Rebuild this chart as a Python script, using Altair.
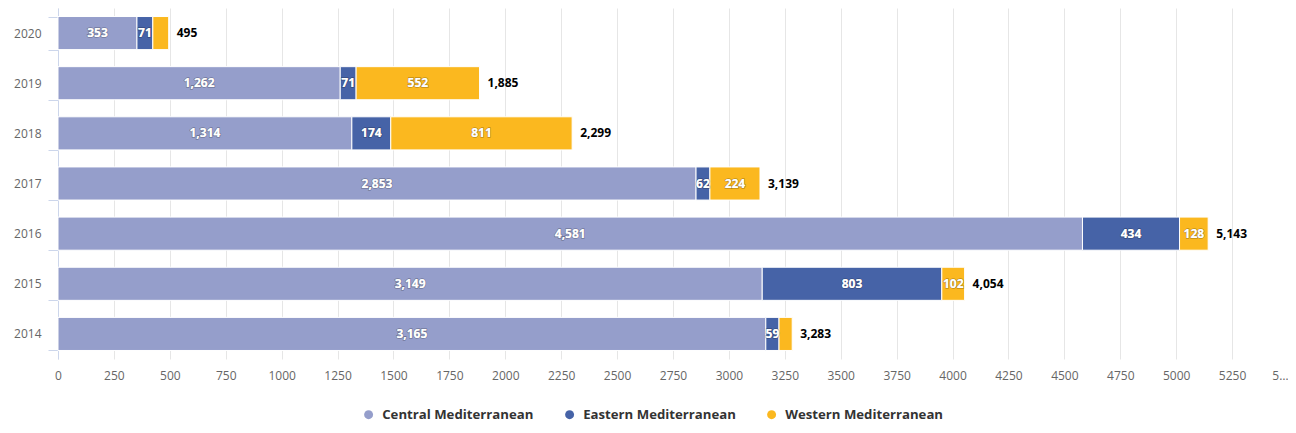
import altair as alt
import pandas as pd

years = ["2020", "2019", "2018", "2017", "2016", "2015", "2014"]
regions = ["Central Mediterranean", "Eastern Mediterranean", "Western Mediterranean"]
central = [353, 1262, 1314, 2853, 4581, 3149, 3165]
eastern = [71, 71, 174, 62, 434, 803, 59]
western = [71, 552, 811, 224, 128, 102, 59]
colors = ["#959ecb", "#4663a7", "#fbb81f"]
x_ticks = list(range(0, 5501, 250))

rows = []
for i, y in enumerate(years):
    for k, (r, vals) in enumerate(zip(regions, [central, eastern, western])):
        rows.append({"year": y, "region": r, "value": vals[i], "order": k})
df = pd.DataFrame(rows)
totals = pd.DataFrame({"year": years,
                       "total": [c + e + w for c, e, w in zip(central, eastern, western)]})

FONT = "Open Sans"

y_enc = alt.Y("year:N", sort=years, title=None,
              scale=alt.Scale(paddingInner=0.34, paddingOuter=0.17),
              axis=alt.Axis(domainColor="#ccd6eb", tickColor="#ccd6eb", tickSize=10,
                            tickBand="extent", labelColor="#666666", labelFontSize=12,
                            labelFont=FONT, labelPadding=7, grid=False))

x_scale = alt.Scale(domain=[0, 5500], nice=False)

bars = alt.Chart(df).mark_bar(stroke="white", strokeWidth=1).encode(
    x=alt.X("value:Q", stack="zero", scale=x_scale, title=None,
            axis=alt.Axis(values=x_ticks, grid=True, gridColor="#e6e6e6", domain=False,
                          ticks=False, labelColor="#666666", labelFontSize=12, labelFont=FONT,
                          labelPadding=11, format="d",
                          labelExpr="datum.value == 5500 ? '5…' : datum.label",
                          labelAlign={"condition": {"test": "datum.value == 5500", "value": "right"},
                                      "value": "center"})),
    y=y_enc,
    color=alt.Color("region:N", scale=alt.Scale(domain=regions, range=colors),
                    legend=alt.Legend(title=None, orient="none", direction="horizontal",
                                      legendX=304, legendY=400, symbolType="circle",
                                      symbolSize=80, symbolStrokeWidth=0,
                                      labelFontSize=13.2, labelFontWeight="bold",
                                      labelColor="#333333", labelFont=FONT, labelLimit=400,
                                      labelOffset=7, columnPadding=29, padding=0)),
    order=alt.Order("order:Q"),
)

seg = alt.Chart(df).transform_stack(
    stack="value", groupby=["year"], as_=["x0", "x1"],
    sort=[alt.SortField("order", order="ascending")]
).transform_calculate(
    mid="(datum.x0 + datum.x1) / 2"
).transform_filter(
    "datum.region != 'Western Mediterranean' || datum.value >= 100"
)

seg_shadow = seg.mark_text(fontSize=12, fontWeight="bold", font=FONT, color="white",
                           stroke="#000000", strokeWidth=1.6, strokeOpacity=0.25).encode(
    x=alt.X("mid:Q", scale=x_scale),
    y=alt.Y("year:N", sort=years),
    text=alt.Text("value:Q", format=","),
)
seg_text = seg.mark_text(fontSize=12, fontWeight="bold", font=FONT, color="white").encode(
    x=alt.X("mid:Q", scale=x_scale),
    y=alt.Y("year:N", sort=years),
    text=alt.Text("value:Q", format=","),
)

tot_text = alt.Chart(totals).mark_text(fontSize=12, fontWeight="bold", font=FONT,
                                       color="#000000", align="left", dx=8).encode(
    x=alt.X("total:Q", scale=x_scale),
    y=alt.Y("year:N", sort=years),
    text=alt.Text("total:Q", format=","),
)

chart = alt.layer(bars, seg_shadow, seg_text, tot_text).properties(
    width=1230, height=351,
    autosize=alt.AutoSizeParams(type="none"),
    padding={"left": 50, "top": 0, "right": 0, "bottom": 66},
).configure(background="white").configure_view(stroke=None)

chart.save("out.html", embed_options={"renderer": "svg", "actions": False})
